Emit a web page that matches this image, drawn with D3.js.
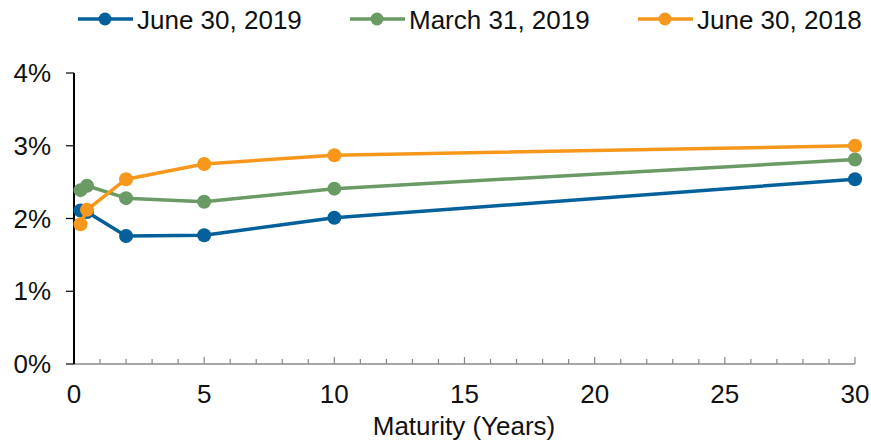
<!DOCTYPE html>
<html><head><meta charset="utf-8">
<script src="https://cdn.jsdelivr.net/npm/d3@7"></script>
<style>body{margin:0;background:#fff}svg{display:block;font-family:"Liberation Sans",Arial,sans-serif}</style>
</head><body><svg id="c" width="871" height="446"></svg>
<script>
const maturities = [0.25, 0.5, 2, 5, 10, 30];
const seriesNames = ["June 30, 2019", "March 31, 2019", "June 30, 2018"];
const jun2019 = [2.11, 2.09, 1.76, 1.77, 2.01, 2.54];
const mar2019 = [2.39, 2.45, 2.28, 2.23, 2.41, 2.81];
const jun2018 = [1.92, 2.12, 2.54, 2.75, 2.87, 3.00];
const colors = ["#03609a", "#6a9b64", "#f7981d"];
const xTicks = [0, 5, 10, 15, 20, 25, 30];
const yTicks = [0, 1, 2, 3, 4];

const svg = d3.select("#c");
const x = d3.scaleLinear().domain([0, 30]).range([74, 855]);
const y = d3.scaleLinear().domain([0, 4]).range([364, 73]);
const FS = 26;

// x axis
const xa = svg.append("g").attr("transform", "translate(0,364)");
xa.append("line").attr("x1", x(0)).attr("x2", x(30)).attr("stroke", "#888").attr("stroke-width", 1.5);
xa.selectAll("line.t").data(d3.range(0, 31)).join("line").attr("class","t")
  .attr("x1", d => x(d)).attr("x2", d => x(d)).attr("y1", 0).attr("y2", d => d % 5 === 0 ? -7 : -5)
  .attr("stroke", "#888").attr("stroke-width", 1.2);
xa.selectAll("text").data(xTicks).join("text")
  .attr("x", d => x(d)).attr("y", 39).attr("text-anchor", "middle")
  .attr("font-size", FS).attr("fill", "#111").text(d => d);
svg.append("text").attr("x", 464).attr("y", 435).attr("text-anchor", "middle")
  .attr("font-size", FS).attr("fill", "#111").text("Maturity (Years)");

// y axis
const ya = svg.append("g");
ya.selectAll("line").data(yTicks).join("line")
  .attr("x1", 66).attr("x2", 74).attr("y1", d => y(d)).attr("y2", d => y(d))
  .attr("stroke", "#000").attr("stroke-width", 1.2);
ya.append("line").attr("x1", 74).attr("x2", 74).attr("y1", y(4)).attr("y2", y(0))
  .attr("stroke", "#000").attr("stroke-width", 2);
ya.selectAll("text").data(yTicks).join("text")
  .attr("x", 51).attr("y", d => y(d) + 9).attr("text-anchor", "end")
  .attr("font-size", FS).attr("fill", "#111").text(d => d + "%");

const data = [jun2019, mar2019, jun2018];
const line = d3.line().x((d, i) => x(maturities[i])).y(d => y(d));
data.forEach((vals, k) => {
  const g = svg.append("g");
  g.append("path").attr("d", line(vals)).attr("fill", "none")
    .attr("stroke", colors[k]).attr("stroke-width", 3.5).attr("stroke-linejoin", "round");
  g.selectAll("circle").data(vals).join("circle")
    .attr("cx", (d, i) => x(maturities[i])).attr("cy", d => y(d)).attr("r", 7)
    .attr("fill", colors[k]);
});

// legend
const legX = [78, 350, 638];
seriesNames.forEach((n, k) => {
  const g = svg.append("g").attr("transform", `translate(${legX[k]},19)`);
  g.append("line").attr("x1", 0).attr("x2", 55).attr("stroke", colors[k]).attr("stroke-width", 3.5);
  g.append("circle").attr("cx", 27).attr("r", 6.5).attr("fill", colors[k]);
  g.append("text").attr("x", 59).attr("y", 10).attr("font-size", FS).attr("fill", "#111").text(n);
});
</script></body></html>
